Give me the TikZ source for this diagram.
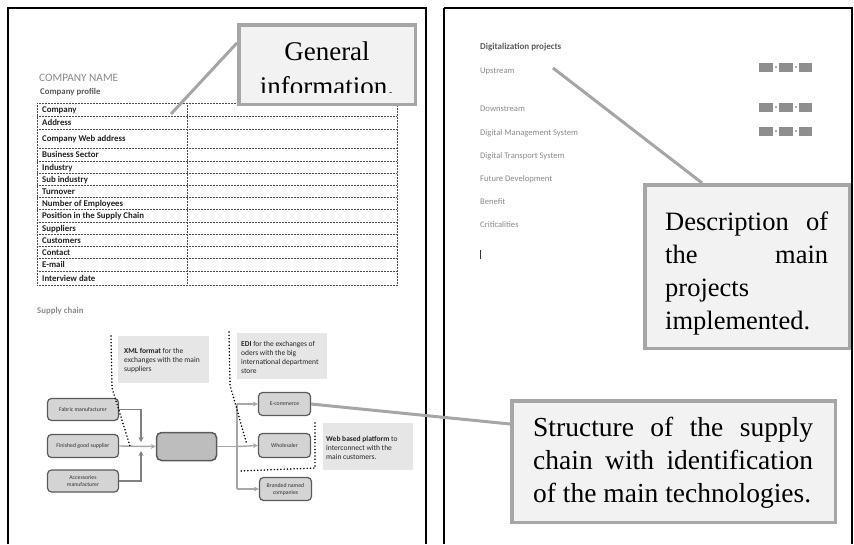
\documentclass[tikz,border=0pt]{standalone}
\usepackage{fontspec}
\setmainfont{Liberation Serif}
\newfontfamily\docfont{Carlito}
\usetikzlibrary{arrows.meta,calc}

\definecolor{calloutedge}{HTML}{A6A6A6}
\definecolor{calloutfill}{HTML}{F2F2F2}
\definecolor{notefill}{HTML}{E6E6E6}
\definecolor{boxfill}{HTML}{D4D4D4}
\definecolor{hubfill}{HTML}{BDBDBD}
\definecolor{boxedge}{HTML}{5A5A5A}
\definecolor{flow}{HTML}{A8A8A8}
\definecolor{flowdark}{HTML}{808080}
\definecolor{textgray}{HTML}{8A8A8A}
\definecolor{headgray}{HTML}{595959}
\definecolor{rulegray}{HTML}{4D4D4D}
\definecolor{chipgray}{HTML}{8E8E8E}
\definecolor{chiplight}{HTML}{B0B0B0}

% stretch a line of text to a given width
\newcommand\spreadline[2]{\makebox[#1][s]{#2}}

\begin{document}
\begin{tikzpicture}[x=1pt,y=-1pt,
  pageframe/.style={line width=2pt,black},
  callout/.style={draw=calloutedge,line width=3.5pt,fill=calloutfill,inner sep=0pt},
  calloutlead/.style={draw=calloutedge,line width=3pt},
  callouttext/.style={anchor=base west,inner sep=0pt,font=\fontsize{26.5}{33.3}\selectfont},
  tablerule/.style={draw=rulegray,line width=0.6pt,dash pattern=on 0.7pt off 0.8pt},
  rowlabel/.style={anchor=base west,inner sep=0pt,font=\docfont\bfseries\fontsize{8.8}{10}\selectfont,text=black!88},
  pagetext/.style={anchor=base west,inner sep=0pt,font=\docfont\fontsize{8.6}{10}\selectfont,text=textgray},
  chainbox/.style={draw=boxedge,fill=boxfill,line width=1.2pt,rounded corners=4pt,
    minimum width=71pt,minimum height=22pt,inner sep=1pt,align=center,
    font=\docfont\fontsize{5.8}{7}\selectfont,text=black!80},
  hubbox/.style={draw=boxedge,fill=hubfill,line width=1.5pt,rounded corners=5pt,
    minimum width=60pt,minimum height=28pt},
  note/.style={fill=notefill,inner sep=0pt},
  notetext/.style={anchor=base west,inner sep=0pt,font=\docfont\fontsize{7.5}{9.2}\selectfont,text=black!85},
  flowline/.style={draw=flow,line width=1.4pt},
  flowarrow/.style={flowline,-{Stealth[length=5pt,width=5pt]}},
  mergearrow/.style={draw=flowdark,line width=1.2pt,-{Stealth[length=5pt,width=5pt]}},
  notelead/.style={draw=black,line width=1.7pt,line cap=round,dash pattern=on 0pt off 3.3pt},
  chip/.style={fill=chipgray,draw=none}
]
\useasboundingbox (0,0) rectangle (854,544);

% ---------- page frames ----------
\draw[pageframe] (8,544) -- (8,8) -- (426,8) -- (426,544);
\draw[line width=2pt] (444,8) -- (852,8) -- (852,544);
\draw[line width=1.3pt] (444,8) -- (444,544);

% ---------- left page: company profile ----------
\node[anchor=base west,inner sep=0pt,font=\docfont\fontsize{11.3}{13}\selectfont,text=textgray]
  (coname) at (39,81) {COMPANY NAME};
\node[anchor=base west,inner sep=0pt,font=\docfont\bfseries\fontsize{8.8}{10}\selectfont,text=headgray]
  (coprofile) at (40,94) {Company profile};

\foreach \yy in {103,116,129,148,161,173,185,197,209,222,234,246,258,271,285}
  \draw[tablerule] (37,\yy) -- (397,\yy);
\foreach \xx in {37,187,397}
  \draw[tablerule] (\xx,103) -- (\xx,285);

\foreach \lab/\yy [count=\i] in {Company/112.5,Address/125.5,Company Web address/141.5,
  Business Sector/157.5,Industry/170,Sub industry/182,Turnover/194,
  Number of Employees/206,Position in the Supply Chain/218.5,Suppliers/231,
  Customers/243,Contact/255,E-mail/267.5,Interview date/281}
  \node[rowlabel] (row\i) at (42,\yy) {\lab};

% ---------- left page: supply chain ----------
\node[anchor=base west,inner sep=0pt,font=\docfont\bfseries\fontsize{8.8}{10}\selectfont,text=textgray]
  (sctitle) at (37,313) {Supply chain};

\node[note,minimum width=91pt,minimum height=47pt] (xmlnote) at (163.5,359.5) {};
\node[notetext] (xmltext) at (124,353)
  {\parbox[t]{84pt}{\textbf{XML format} for the\\exchanges with the main\\suppliers}};
\node[note,minimum width=90pt,minimum height=46pt] (edinote) at (282,356) {};
\node[notetext] (editext) at (241,346)
  {\parbox[t]{86pt}{\textbf{EDI} for the exchanges of\\oders with the big\\international department\\store}};
\node[note,minimum width=90pt,minimum height=47pt] (webnote) at (368,446.5) {};
\node[notetext] (webtext) at (326,441)
  {\parbox[t]{86pt}{\textbf{Web based platform} to\\interconnect with the\\main customers.}};

\node[chainbox] (fab) at (83,409.5) {Fabric manufacturer};
\node[chainbox,minimum height=23pt] (fin) at (83,446) {Finished good supplier};
\node[chainbox] (acc) at (83,481) {Accessories\\manufacturer};
\node[hubbox] (hub) at (186.5,446.5) {};
\node[chainbox,minimum width=52pt,minimum height=23pt] (ecom) at (284.5,404) {E-commerce};
\node[chainbox,minimum width=52pt,minimum height=24pt] (whole) at (284.5,445.5) {Wholesaler};
\node[chainbox,minimum width=52pt,minimum height=23pt] (brand) at (285.5,489) {Branded named\\companies};

% suppliers merge into the company
\coordinate (mergeup) at (141,442);
\coordinate (mergedown) at (141,451);
\draw[mergearrow] (fab.east) -| (mergeup);
\draw[mergearrow] (acc.east) -| (mergedown);
\draw[flowarrow] (fin.east) -- (hub.west);

% company splits to customers
\coordinate (split) at (237,446.5);
\draw[flowline] (hub.east) -- (split);
\draw[flowline] (split |- ecom.west) -- (split |- brand.west);
\draw[flowarrow] (split |- ecom.west) -- (ecom.west);
\draw[flowarrow] (split) -- (whole.west);
\draw[flowarrow] (split |- brand.west) -- (brand.west);

% dotted leaders of the technology notes
\coordinate (xmltop) at (111,336);
\coordinate (xmlbend) at (112,388);
\coordinate (xmlend) at (130,446);
\draw[notelead] (xmltop) -- (xmlbend) -- (xmlend);
\coordinate (editop) at (229,332);
\coordinate (edibend) at (230,385);
\coordinate (ediend) at (247,445);
\draw[notelead] (editop) -- (edibend) -- (ediend);
\coordinate (webtop) at (315,423);
\coordinate (webcorner) at (315,468);
\coordinate (webend) at (239,471);
\draw[notelead] (webtop) -- (webcorner) -- (webend);

% ---------- right page: digitalization projects ----------
\node[anchor=base west,inner sep=0pt,font=\docfont\bfseries\fontsize{9}{10}\selectfont,text=headgray]
  (digi) at (480,49) {Digitalization projects};
\node[pagetext] (up) at (480,73) {Upstream};
\node[pagetext] (down) at (480,111) {Downstream};
\node[pagetext] (dms) at (480,135) {Digital Management System};
\node[pagetext] (dts) at (480,158) {Digital Transport System};
\node[pagetext] (future) at (480,181) {Future Development};
\node[pagetext] (benefit) at (480,204) {Benefit};
\node[pagetext] (crit) at (480,227) {Criticalities};
\draw[black!80,line width=0.8pt] (480,250) -- (480,259);

% rating chips
\foreach \yy in {63,103,127} {
  \fill[chip] (759,\yy) rectangle (773,\yy+8.5);
  \fill[chip] (779,\yy) rectangle (793,\yy+8.5);
  \fill[chip] (799,\yy) rectangle (812,\yy+8.5);
  \fill[chiplight] (775.2,\yy+3.2) rectangle (777,\yy+5.2);
  \fill[chiplight] (795.2,\yy+3.2) rectangle (797,\yy+5.2);
}

% ---------- callouts ----------
\node[callout,minimum width=176.5pt,minimum height=79.5pt] (gen) at (327,64.5) {};
\begin{scope}
  % the second line runs past the text area and is cut at its foot
  \clip (240,26) rectangle (414,92);
  \node[anchor=base,inner sep=0pt,font=\fontsize{27}{35}\selectfont] (gentext) at (327,60)
    {\parbox[t]{170pt}{\centering General\\information.}};
\end{scope}

\node[callout,minimum width=204.5pt,minimum height=163.5pt] (desc) at (747,266.5) {};
\node[callouttext] (desctext) at (665,230)
  {\parbox[t]{163pt}{\spreadline{163pt}{Description of}\\\spreadline{163pt}{the main}\\projects\\implemented.}};

\node[callout,minimum width=323.5pt,minimum height=121.5pt] (struct) at (673.5,461.5) {};
\node[callouttext,font=\fontsize{27.5}{33}\selectfont] (structtext) at (533,436)
  {\parbox[t]{280pt}{\spreadline{280pt}{Structure of the supply}\\\spreadline{280pt}{chain with identification}\\of the main technologies.}};

% callout leaders
\coordinate (genend) at (171,114);
\draw[calloutlead] ($(gen.north west)!0.24!(gen.south west)$) -- (genend);
\coordinate (descend) at (553,68);
\draw[calloutlead] ($(desc.north west)!0.284!(desc.north east)$) -- (descend);
\draw[calloutlead] ($(struct.north west)!0.2!(struct.south west)$) -- (ecom.east);

\end{tikzpicture}
\end{document}
